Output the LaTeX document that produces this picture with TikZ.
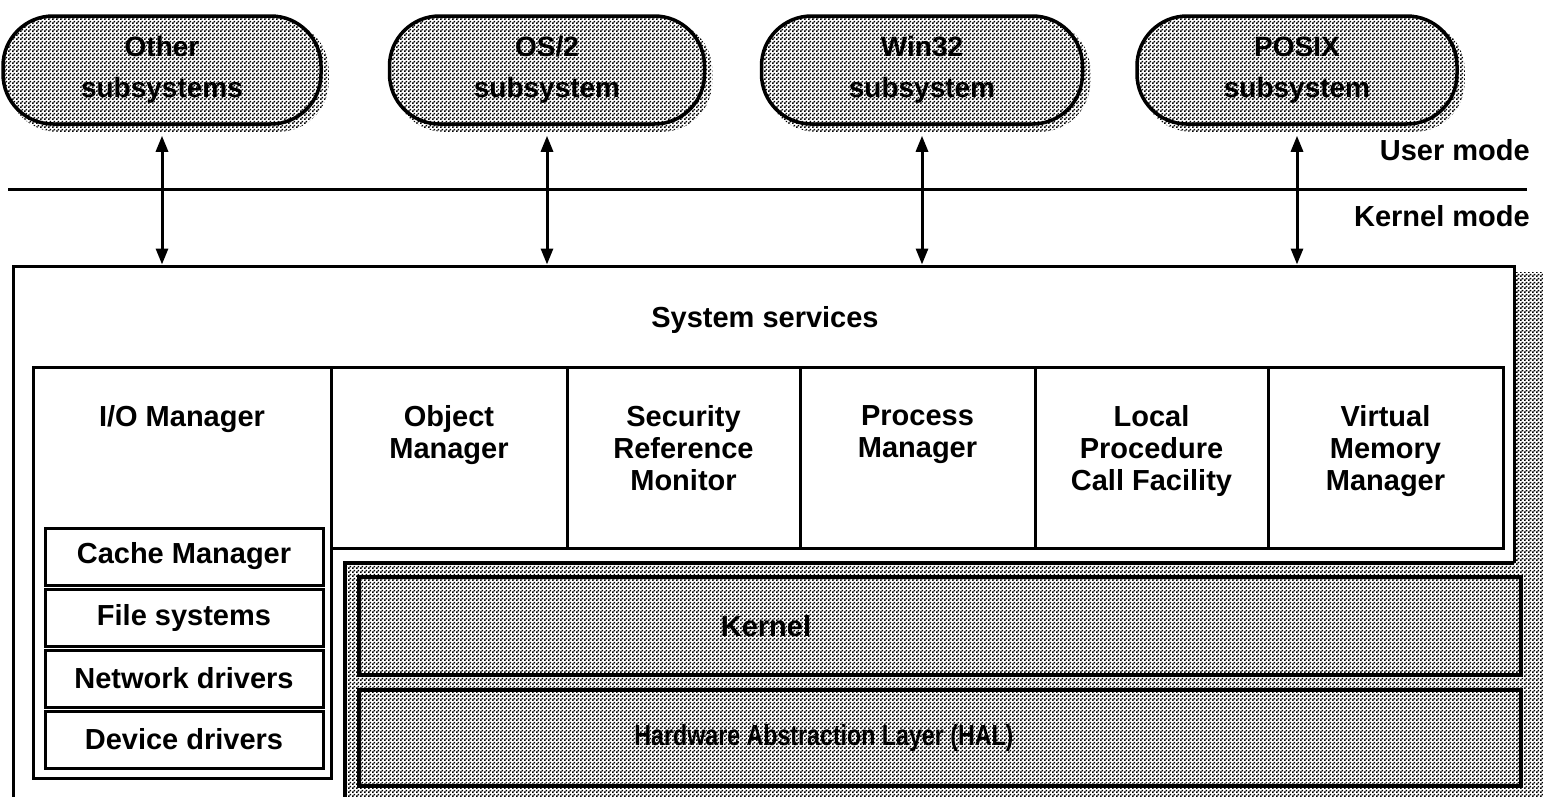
\documentclass[tikz,border=0pt]{standalone}
\usepackage{fontspec}
\setmainfont{Liberation Sans}
\usepackage{graphicx}
\usetikzlibrary{patterns,arrows.meta}

% fine halftone screen used for the grey areas (diagonal grid of square dots)
\pgfdeclarepatternformonly{halftone}{\pgfpointorigin}{\pgfpoint{4pt}{4pt}}{\pgfpoint{4pt}{4pt}}{%
  \pgfpathrectangle{\pgfpoint{0.1pt}{0.1pt}}{\pgfpoint{1.9pt}{1.9pt}}%
  \pgfpathrectangle{\pgfpoint{2.1pt}{2.1pt}}{\pgfpoint{1.9pt}{1.9pt}}%
  \pgfusepath{fill}}

\pgfdeclarelayer{paper}
\pgfdeclarelayer{shade}
\pgfsetlayers{paper,shade,main}

\tikzset{
  lbl/.style={font=\fontsize{29}{32}\selectfont\bfseries, align=center, inner sep=0pt},
  screen/.style={preaction={fill=white}, pattern=halftone},
  pill/.style={draw, line width=3.5pt, rounded corners=50pt, minimum height=108pt,
    screen, align=center, inner sep=0pt, font=\fontsize{28}{41}\selectfont\bfseries},
  pillshadow/.style={pattern=halftone, rounded corners=50pt},
  box/.style={draw, line width=3pt, inner sep=0pt},
  slab/.style={draw, line width=4pt, screen, inner sep=0pt},
  link/.style={line width=3pt,
    {Triangle[width=12pt,length=16pt]}-{Triangle[width=12pt,length=16pt]},
    shorten <=10pt},
  modeline/.style={line width=3pt},
}

\begin{document}
\begin{tikzpicture}[x=1pt,y=-1pt]
\useasboundingbox (0,0) rectangle (1543,796);
\begin{pgfonlayer}{paper}
  \fill[white] (0,0) rectangle (1543,796);
\end{pgfonlayer}
\clip (0,0) rectangle (1543,796);

% ---- user-mode subsystems
\node[pill, minimum width=318pt] (oth) at (162,70) {Other\\subsystems};
\node[pill, minimum width=315pt] (os2) at (547,70) {OS/2\\subsystem};
\node[pill, minimum width=321pt] (w32) at (922,70) {Win32\\subsystem};
\node[pill, minimum width=320pt] (psx) at (1297,70) {POSIX\\subsystem};

\begin{pgfonlayer}{shade}
  \foreach \p in {oth,os2,w32,psx}
    \fill[pillshadow] ([shift={(6pt,-6pt)}]\p.south west) rectangle ([shift={(6pt,-6pt)}]\p.north east);
  % shadow of the executive frame
  \fill[pattern=halftone] (1516,272) rectangle (1543,800);
\end{pgfonlayer}

% ---- user / kernel boundary
\coordinate (ml) at (8,189);
\coordinate (mr) at (1527,189);
\draw[modeline] (ml) -- (mr);
\node[lbl, anchor=base east] (um) at (1530,160) {User mode};
\node[lbl, anchor=base east] (km) at (1530,226) {Kernel mode};

% ---- executive frame
\node[box, fill=white, minimum width=1501pt, minimum height=600pt] (exec) at (763.5,566) {};
\node[lbl] (sys) at (765,320) {System services};

% ---- kernel and HAL area
\fill[screen] (345,563) rectangle (1543,800);
\draw[line width=3.5pt] (1514,563) -- (345,563) -- (345,800);
\node[slab, minimum width=1162pt, minimum height=98pt] (krn) at (940,626) {};
\node[slab, minimum width=1162pt, minimum height=96pt] (hal) at (940,738) {};
\node[lbl] (krnt) at (766,626) {Kernel};
\node[lbl] (halt) at (824,738) {\scalebox{0.8}[1]{Hardware Abstraction Layer (HAL)}};

% ---- executive components
\node[box, minimum width=298pt, minimum height=411pt] (iom) at (182,572.5) {};
\node[box, minimum width=236pt, minimum height=181pt] (obm) at (449,457.5) {};
\node[box, minimum width=233pt, minimum height=181pt] (srm) at (683.5,457.5) {};
\node[box, minimum width=235pt, minimum height=181pt] (psm) at (917.5,457.5) {};
\node[box, minimum width=233pt, minimum height=181pt] (lpc) at (1151.5,457.5) {};
\node[box, minimum width=235pt, minimum height=181pt] (vmm) at (1385.5,457.5) {};

\node[lbl, anchor=north] (iomt) at (182,405) {I/O Manager};
\node[lbl, anchor=north] (obmt) at (449,405) {Object\\Manager};
\node[lbl, anchor=north] (srmt) at (683.5,405) {Security\\Reference\\Monitor};
\node[lbl, anchor=north] (psmt) at (917.5,405) {Process\\Manager};
\node[lbl, anchor=north] (lpct) at (1151.5,405) {Local\\Procedure\\Call Facility};
\node[lbl, anchor=north] (vmmt) at (1385.5,405) {Virtual\\Memory\\Manager};

% I/O subsystem parts
\node[box, lbl, draw, line width=3pt, minimum width=278pt, minimum height=57pt] (cch) at (184,556.5) {Cache Manager};
\node[box, lbl, draw, line width=3pt, minimum width=278pt, minimum height=57pt] (fsy) at (184,617.5) {File systems};
\node[box, lbl, draw, line width=3pt, minimum width=278pt, minimum height=57pt] (net) at (184,678.5) {Network drivers};
\node[box, lbl, draw, line width=3pt, minimum width=278pt, minimum height=57pt] (dev) at (184,739.5) {Device drivers};

% ---- system-call paths
\draw[link] (oth.south) -- (oth.south |- exec.north);
\draw[link] (os2.south) -- (os2.south |- exec.north);
\draw[link] (w32.south) -- (w32.south |- exec.north);
\draw[link] (psx.south) -- (psx.south |- exec.north);
\end{tikzpicture}
\end{document}
